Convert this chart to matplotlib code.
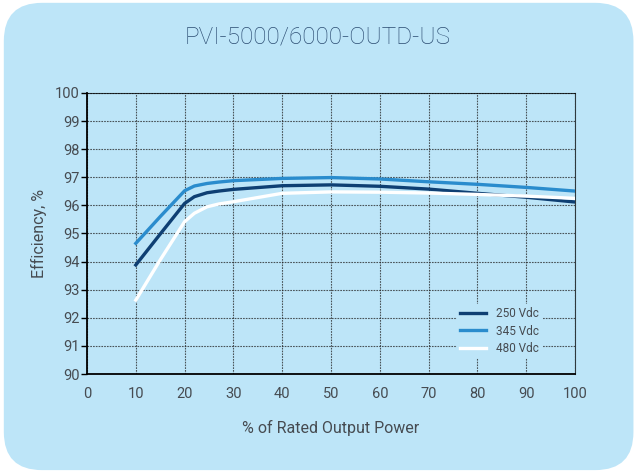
import matplotlib
matplotlib.use("Agg")
import matplotlib.pyplot as plt
from matplotlib.patches import FancyBboxPatch

plt.rcParams['font.family'] = ['Roboto', 'DejaVu Sans']

power = [10, 15, 20, 22, 24.6, 27, 30, 40, 50, 60, 70, 80, 90, 100]
eff_250 = [93.88, 94.98, 96.07, 96.31, 96.45, 96.51, 96.57, 96.70, 96.73, 96.68, 96.58, 96.43, 96.29, 96.12]
eff_345 = [94.65, 95.60, 96.52, 96.69, 96.78, 96.83, 96.88, 96.96, 96.99, 96.94, 96.84, 96.75, 96.64, 96.51]
eff_480 = [92.63, 94.06, 95.42, 95.72, 95.95, 96.05, 96.13, 96.43, 96.48, 96.47, 96.44, 96.39, 96.33, 96.25]
series_labels = ['250 Vdc', '345 Vdc', '480 Vdc']
title = 'PVI-5000/6000-OUTD-US'
xlabel = '% of Rated Output Power'
ylabel = 'Efficiency, %'

BG = '#BDE5F8'
TXT = '#464b51'

fig = plt.figure(figsize=(6.36, 4.72), dpi=100)
fig.patch.set_facecolor('white')
bg = FancyBboxPatch((0.006, 0.004), 0.99, 0.99, boxstyle="round,pad=0,rounding_size=0.06",
                    transform=fig.transFigure, facecolor=BG, edgecolor='none', zorder=-10,
                    mutation_aspect=636/472)
fig.patches.append(bg)

ax = fig.add_axes([0.1368, 0.2076, 0.9041 - 0.1368, 0.803 - 0.2076])
ax.set_facecolor(BG)

ax.plot(power, eff_250, color='#0E3F73', lw=2.4, label=series_labels[0], zorder=3, solid_joinstyle='round')
ax.plot(power, eff_345, color='#2A8CCD', lw=2.4, label=series_labels[1], zorder=3, solid_joinstyle='round')
ax.plot(power, eff_480, color='white', lw=2.4, label=series_labels[2], zorder=3, solid_joinstyle='round')

ax.set_xlim(0, 100)
ax.set_ylim(90, 100)
ax.set_xticks(range(0, 101, 10))
ax.set_yticks(range(90, 101, 1))
ax.grid(True, color='#222222', linestyle=(0, (1.5, 1)), linewidth=0.8, alpha=0.75)
ax.set_axisbelow(True)
for s in ['top', 'right']:
    ax.spines[s].set_linestyle((0, (1.5, 1)))
    ax.spines[s].set_linewidth(0.8)
    ax.spines[s].set_alpha(0.75)
for s in ['left', 'bottom']:
    ax.spines[s].set_linewidth(1.3)
ax.tick_params(axis='both', colors='black', labelsize=10.5, length=4, width=1, labelcolor=TXT)
ax.tick_params(axis='y', pad=1)
ax.tick_params(axis='x', length=0, pad=9)

ax.set_xlabel(xlabel, fontsize=11.5, color=TXT, labelpad=14)
ax.set_ylabel(ylabel, fontsize=11.5, color=TXT, labelpad=6)

fig.text(0.5, 0.922, title, ha='center', va='center', fontsize=17.5, color='#2B4C72', fontweight='light')

leg = ax.legend(loc='lower right', bbox_to_anchor=(0.945, 0.035), frameon=True, fontsize=8.5,
                handlelength=2.2, labelcolor=TXT, borderpad=0.3, labelspacing=0.35)
leg.get_frame().set_facecolor(BG)
leg.get_frame().set_edgecolor('none')
leg.get_frame().set_alpha(1)

fig.savefig('out.png', dpi=100, facecolor=fig.get_facecolor())
